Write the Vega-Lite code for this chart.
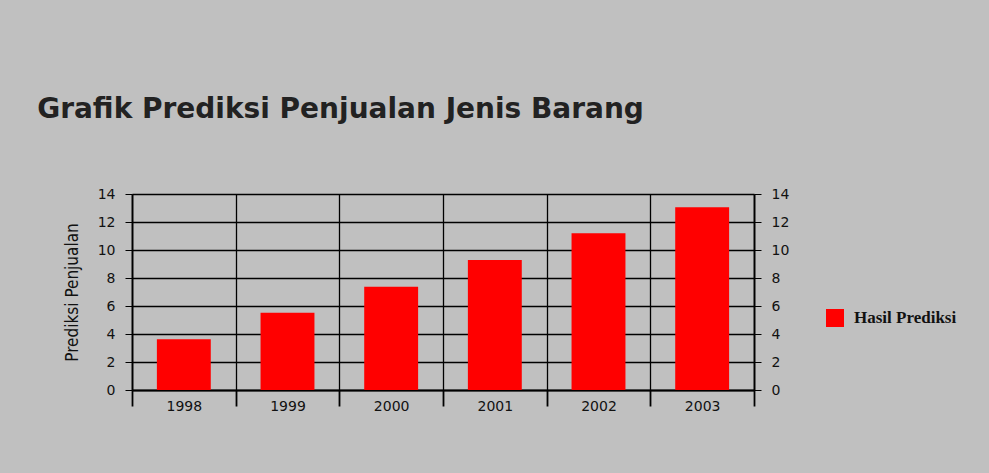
{
  "$schema": "https://vega.github.io/schema/vega-lite/v6.json",
  "autosize": {"type": "none"},
  "padding": {"left": 132, "top": 194, "right": 235, "bottom": 83},
  "width": 622,
  "height": 196,
  "background": "#c0c0c0",
  "title": {
    "text": "Grafik Prediksi Penjualan Jenis Barang",
    "anchor": "start",
    "frame": "bounds",
    "dx": -26,
    "offset": 63,
    "font": "DejaVu Sans",
    "fontSize": 28,
    "fontWeight": "bold",
    "color": "#222222"
  },
  "data": {
    "values": [
      {"tahun": "1998", "nilai": 3.62, "seri": "Hasil Prediksi"},
      {"tahun": "1999", "nilai": 5.52, "seri": "Hasil Prediksi"},
      {"tahun": "2000", "nilai": 7.38, "seri": "Hasil Prediksi"},
      {"tahun": "2001", "nilai": 9.29, "seri": "Hasil Prediksi"},
      {"tahun": "2002", "nilai": 11.19, "seri": "Hasil Prediksi"},
      {"tahun": "2003", "nilai": 13.05, "seri": "Hasil Prediksi"}
    ]
  },
  "config": {
    "view": {"stroke": null},
    "axis": {
      "domainColor": "#000000",
      "tickColor": "#000000",
      "gridColor": "#000000",
      "gridOpacity": 1,
      "gridWidth": 1.3,
      "labelColor": "#111111",
      "labelFont": "DejaVu Sans",
      "labelFontSize": 14,
      "titleFont": "DejaVu Sans Condensed",
      "titleFontSize": 17,
      "titleFontWeight": "normal",
      "titleColor": "#111111"
    }
  },
  "layer": [
    {
      "mark": {"type": "bar", "color": "#ff0000", "width": {"band": 0.52}},
      "encoding": {
        "x": {
          "field": "tahun",
          "type": "ordinal",
          "title": null,
          "scale": {"paddingInner": 0, "paddingOuter": 0},
          "axis": {
            "tickBand": "extent",
            "grid": true,
            "tickSize": 16,
            "labelPadding": -7,
            "labelAngle": 0,
            "labelBaseline": "top",
            "domainWidth": 1.8,
            "tickWidth": 1.8
          }
        },
        "y": {
          "field": "nilai",
          "type": "quantitative",
          "title": "Prediksi Penjualan",
          "scale": {"domain": [0, 14], "nice": false},
          "axis": {
            "orient": "left",
            "values": [0, 2, 4, 6, 8, 10, 12, 14],
            "grid": true,
            "tickSize": 7,
            "labelPadding": 10,
            "titlePadding": 16,
            "domainWidth": 1.8
          }
        },
        "color": {
          "field": "seri",
          "type": "nominal",
          "scale": {"range": ["#ff0000"]},
          "legend": {
            "title": null,
            "orient": "none",
            "legendX": 694,
            "legendY": 115,
            "symbolType": "square",
            "symbolSize": 324,
            "symbolStrokeWidth": 0,
            "labelFont": "Liberation Serif",
            "labelFontSize": 17,
            "labelFontWeight": "bold",
            "labelColor": "#111111",
            "labelOffset": 10
          }
        }
      }
    },
    {
      "mark": {"type": "bar", "opacity": 0},
      "encoding": {
        "x": {"field": "tahun", "type": "ordinal"},
        "y": {
          "field": "nilai",
          "type": "quantitative",
          "title": null,
          "axis": {
            "orient": "right",
            "values": [0, 2, 4, 6, 8, 10, 12, 14],
            "grid": false,
            "tickSize": 7,
            "labelPadding": 10,
            "domainWidth": 1.8
          }
        }
      }
    }
  ],
  "resolve": {"axis": {"y": "independent"}}
}
